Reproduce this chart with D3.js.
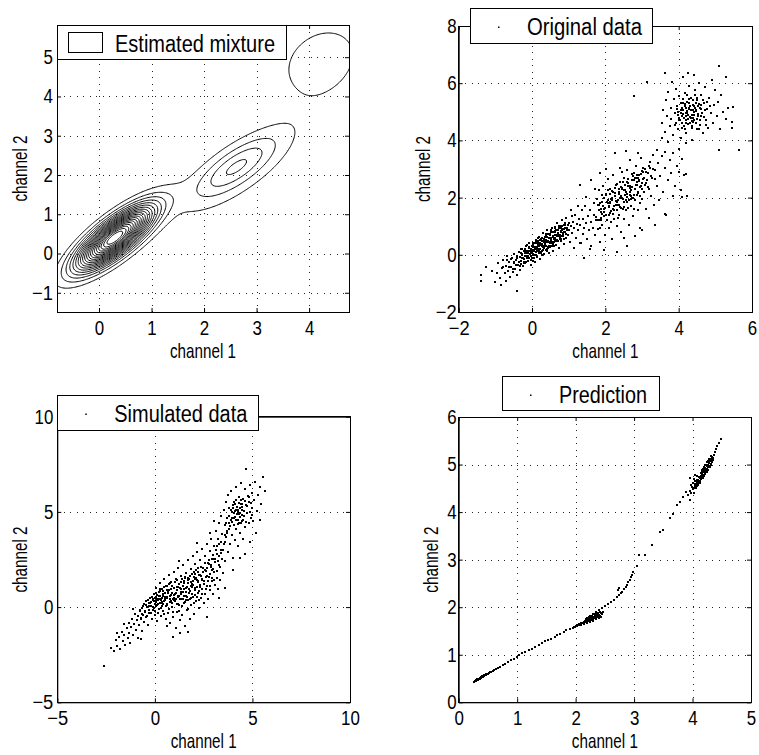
<!DOCTYPE html>
<html>
<head>
<meta charset="utf-8">
<script src="https://cdn.jsdelivr.net/npm/d3@7"></script>
<style>
body { margin: 0; background: #fff; }
text { font-family: "Liberation Sans Narrow", "Liberation Sans", Arial, sans-serif; fill: #000; }
.tick text { font-size: 20px; }
.axis-label { font-size: 21px; }
.legend-text { font-size: 23px; }
</style>
</head>
<body>
<script>
// tick values per panel
let p1XTicks = [0, 1, 2, 3, 4]
let p1YTicks = [-1, 0, 1, 2, 3, 4, 5]
let p2XTicks = [-2, 0, 2, 4, 6]
let p2YTicks = [-2, 0, 2, 4, 6, 8]
let p3XTicks = [-5, 0, 5, 10]
let p3YTicks = [-5, 0, 5, 10]
let p4XTicks = [0, 1, 2, 3, 4, 5]
let p4YTicks = [0, 1, 2, 3, 4, 5, 6]

// estimated mixture (peak heights in units of the contour step)
let mixPeak  = [21, 1.5, 2.75, 1.6]
let mixMeanX = [0.3, 2.6, 2.62, 4.22]
let mixMeanY = [0.4, 2.1, 2.22, 4.88]
let mixSdX   = [0.47, 0.9, 0.5, 0.62]
let mixSdY   = [0.52, 0.9, 0.5, 0.76]
let mixRho   = [0.79, 0.78, 0.75, 0.25]
let contourLevels = [1, 2, 3, 4, 5, 6, 7, 8, 9, 10, 11, 12, 13, 14, 15, 16, 17, 18, 19, 20]

// original data (thinned)
let originalData = [
[-1.40,-0.72],[-1.38,-0.90],[-1.25,-0.42],[-1.10,-0.55],[-1.02,-0.95],[-0.95,-0.62],[-0.92,-0.30],[-0.88,-0.80],[-0.85,-1.05],[-0.82,-0.45],
[-0.78,-0.18],[-0.75,-0.65],[-0.72,-0.92],[-0.70,-0.38],[-0.68,-0.05],[-0.65,-0.55],[-0.62,-0.25],[-0.60,-0.78],[-0.58,-0.42],[-0.55,-0.10],
[-0.52,-0.60],[-0.50,-0.30],[-0.48,0.02],[-0.46,-0.48],[-0.44,-0.18],[-0.42,-1.28],[-0.40,-0.70],[-0.38,-0.35],[-0.36,0.10],[-0.34,-0.08],
[-0.32,-0.52],[-0.30,-0.22],[-0.28,0.22],[-0.26,-0.02],[-0.24,-0.40],[-0.22,-0.15],[-0.20,0.05],[-0.18,-0.30],[-0.16,0.30],[-0.14,-0.05],
[-0.12,0.15],[-0.10,-0.22],[-0.08,0.40],[-0.06,0.02],[-0.04,-0.35],[-0.02,0.22],[0.00,-0.10],[0.00,0.08],[0.02,0.35],[0.04,-0.02],
[0.06,0.18],[0.08,-0.25],[0.10,0.52],[0.11,0.10],[0.13,0.28],[0.14,-0.08],[0.16,0.40],[0.18,0.05],[0.19,0.62],[0.21,0.22],
[0.22,-0.15],[0.24,0.35],[0.26,0.12],[0.27,0.48],[0.29,0.75],[0.30,0.28],[0.32,0.02],[0.33,0.55],[0.35,0.38],[0.37,0.18],
[0.38,0.68],[0.40,0.45],[0.42,0.88],[0.43,0.25],[0.45,0.58],[0.47,0.05],[0.48,0.40],[0.50,0.72],[0.52,0.52],[0.53,0.30],
[0.55,0.95],[0.57,0.62],[0.58,0.15],[0.60,0.45],[0.62,0.80],[0.64,0.58],[0.65,0.35],[0.67,1.10],[0.69,0.70],[0.70,0.48],
[0.72,0.88],[0.74,0.25],[0.75,0.62],[0.77,1.00],[0.79,0.78],[0.80,0.50],[0.82,1.22],[0.84,0.90],[0.85,0.68],[0.87,0.38],
[0.89,1.05],[0.90,0.80],[0.92,0.58],[0.94,1.30],[0.96,0.95],[0.98,0.70],[1.00,1.12],[1.02,0.85],[1.04,0.45],[1.06,1.00],
[1.08,1.35],[1.10,0.75],[1.12,1.15],[1.15,0.92],[1.18,1.40],[1.20,0.60],[1.22,1.08],[1.25,0.85],[1.28,1.25],[1.30,0.40],
[-0.35,-0.25],[-0.27,-0.12],[-0.21,0.12],[-0.15,-0.12],[-0.11,0.05],[-0.07,0.25],[-0.03,0.10],[0.01,0.30],[0.03,0.12],[0.05,-0.12],
[0.07,0.40],[0.09,0.20],[0.12,0.00],[0.15,0.22],[0.17,0.48],[0.20,0.32],[0.23,0.10],[0.25,0.55],[0.28,0.38],[0.31,0.18],
[0.34,0.45],[0.36,0.62],[0.39,0.32],[0.41,0.12],[0.44,0.50],[0.46,0.72],[0.49,0.28],[0.51,0.60],[0.54,0.45],[0.56,0.78],
[0.59,0.55],[0.61,0.30],[0.63,0.68],[0.66,0.88],[0.68,0.52],[0.71,0.72],[0.73,0.95],[0.76,0.55],[0.78,0.82],[0.81,0.65],
[0.83,1.02],[0.86,0.80],[0.88,0.55],[0.91,0.95],[-0.45,-0.35],[-0.40,-0.12],[-0.33,-0.40],[-0.29,0.05],[-0.23,-0.28],[-0.19,-0.05],
[-0.13,0.35],[-0.09,-0.10],[-0.05,0.15],[0.02,-0.20],[0.06,0.28],[0.12,0.45],[0.19,0.15],[0.22,0.42],[0.26,-0.02],[0.33,0.30],
[0.38,0.52],[0.45,0.32],[0.52,0.85],[0.58,0.38],[0.64,0.95],
[-0.31,-0.32],[-0.27,0.02],[-0.24,-0.11],[-0.20,0.20],[-0.17,-0.25],[-0.14,0.08],[-0.10,-0.06],[-0.07,0.27],[-0.04,-0.19],[-0.01,0.16],
[0.02,0.41],[0.04,0.03],[0.07,0.29],[0.09,0.00],[0.12,0.40],[0.14,0.21],[0.17,0.59],[0.19,0.13],[0.22,0.37],[0.24,0.07],
[0.27,0.57],[0.29,0.29],[0.32,0.52],[0.34,0.23],[0.37,0.72],[0.39,0.46],[0.42,0.62],[0.44,0.27],[0.47,0.60],[0.49,0.44],
[0.52,0.81],[0.54,0.30],[0.57,0.63],[0.59,0.80],[0.62,0.52],[0.64,0.97],[0.67,0.66],[0.69,0.51],[0.72,0.86],[0.74,0.65],
[0.77,1.00],[0.79,0.54],[0.82,0.87],[0.85,0.77],[0.88,1.04],[0.93,0.74],[0.97,1.05],[1.01,0.85],[-0.40,-0.05],[-0.43,-0.37],
[-0.48,-0.24],[-0.53,-0.51],[-0.57,-0.16],[-0.62,-0.43],[-0.67,-0.18],[-0.73,-0.63],[-0.80,-0.44],
[-0.29,0.20],[-0.22,-0.24],[-0.16,0.13],[-0.12,-0.04],[-0.06,0.14],[-0.02,-0.05],[0.03,0.29],[0.06,0.14],[0.10,0.51],[0.13,0.14],
[0.16,0.34],[0.20,0.07],[0.23,0.52],[0.26,0.32],[0.30,0.50],[0.33,0.29],[0.36,0.49],[0.40,0.19],[0.43,0.71],[0.46,0.46],
[0.50,0.69],[0.53,0.40],[0.56,0.67],[0.60,0.60],[0.63,0.84],[0.66,0.47],[0.70,0.76],[0.73,0.99],[0.76,0.69],[0.80,0.93],
[0.84,0.64],[0.87,0.89],[0.91,1.12],[0.95,0.87],
[1.32,1.05],[1.35,1.55],[1.38,0.72],[1.40,1.25],[1.43,0.95],[1.45,1.70],[1.48,1.10],[1.50,0.55],[1.52,1.35],[1.55,0.85],
[1.58,1.55],[1.60,1.15],[1.62,0.30],[1.65,0.95],[1.68,1.80],[1.70,1.40],[1.72,0.68],[1.75,1.20],[1.78,1.95],[1.80,0.90],
[1.83,1.55],[1.85,0.45],[1.88,1.30],[1.90,2.10],[1.33,0.40],[1.46,2.02],[1.57,0.20],[1.26,1.70],[1.15,0.25],[1.06,1.55],
[1.73,2.30],[1.41,-0.10],
[1.80,1.20],[1.82,1.75],[1.84,2.25],[1.86,0.95],[1.88,1.50],[1.90,1.05],[1.92,1.85],[1.94,2.40],[1.96,1.35],[1.98,0.70],
[2.00,1.65],[2.02,2.10],[2.04,1.20],[2.06,2.65],[2.08,1.80],[2.10,0.95],[2.12,1.45],[2.14,2.30],[2.16,1.95],[2.18,0.55],
[2.20,1.60],[2.22,2.80],[2.24,1.25],[2.26,2.05],[2.28,1.75],[2.30,2.45],[2.32,1.00],[2.34,1.90],[2.36,1.40],[2.38,2.20],
[2.40,3.05],[2.42,1.65],[2.44,0.80],[2.46,2.35],[2.48,1.95],[2.50,1.25],[2.52,2.70],[2.54,2.10],[2.56,1.55],[2.58,2.95],
[2.60,1.85],[2.62,2.40],[2.64,1.05],[2.66,2.20],[2.68,3.30],[2.70,1.70],[2.72,2.60],[2.74,2.00],[2.76,1.35],[2.78,2.85],
[2.80,2.30],[2.82,1.90],[2.84,3.10],[2.86,2.55],[2.88,1.55],[2.90,2.15],[2.92,2.80],[2.94,0.95],[2.96,2.40],[2.98,3.40],
[3.00,1.95],[3.02,2.65],[3.05,2.20],[3.08,3.00],[3.10,1.60],[3.12,2.50],[3.15,2.85],[3.18,1.30],[3.20,2.30],[3.22,3.25],
[3.25,2.05],[3.28,2.70],[3.30,3.50],[3.33,1.75],[3.36,2.95],[3.40,2.40],[3.43,3.20],[3.46,1.90],[3.50,2.75],[3.54,3.45],
[3.58,2.20],[3.62,3.05],[3.66,1.40],[3.70,2.60],[3.75,3.30],[3.80,2.85],[3.85,3.55],[3.90,2.40],[3.95,3.10],[4.00,3.70],
[4.05,2.25],[4.10,3.35],[4.15,2.80],[4.20,3.90],[4.22,2.05],
[1.95,1.60],[2.03,1.40],[2.07,2.25],[2.11,1.70],[2.15,1.15],[2.19,2.00],[2.23,1.55],[2.27,2.35],[2.31,1.85],[2.35,1.30],
[2.39,2.55],[2.43,2.05],[2.47,1.60],[2.51,2.25],[2.55,1.90],[2.59,2.55],[2.63,1.65],[2.67,2.35],[2.71,2.05],[2.75,2.75],
[2.79,1.60],[2.83,2.45],[2.87,2.10],[2.91,2.60],[2.95,1.80],[2.99,2.30],[3.03,2.90],[3.07,2.45],[2.21,2.20],[2.37,1.75],
[2.53,2.45],[2.69,1.95],[2.85,2.70],[2.45,2.90],[2.13,1.85],
[1.85,1.82],[1.89,1.21],[1.93,1.70],[1.97,1.49],[2.01,2.12],[2.04,1.20],[2.07,1.93],[2.10,1.66],[2.13,2.14],[2.16,1.52],
[2.19,1.90],[2.22,1.42],[2.25,2.15],[2.28,1.88],[2.31,2.46],[2.34,1.74],[2.37,2.14],[2.40,1.67],[2.43,2.37],[2.46,1.98],
[2.49,2.55],[2.52,1.66],[2.55,2.19],[2.58,2.02],[2.61,2.52],[2.64,1.92],[2.67,2.40],[2.70,2.25],[2.73,2.81],[2.76,1.97],
[2.79,2.60],[2.82,2.29],[2.85,2.79],[2.88,2.20],[2.91,2.58],[2.94,2.06],[2.97,2.81],[3.00,2.52],[3.04,3.05],[3.08,2.44],
[3.12,2.88],[3.16,2.37],[3.20,3.10],[3.25,2.75],[3.30,3.00],[3.35,2.65],
[1.75,1.33],[1.80,1.73],[1.84,1.21],[1.88,1.60],[1.92,1.44],[1.96,1.98],[2.00,1.62],[2.05,1.86],[2.09,1.40],[2.14,1.82],
[2.18,2.22],[2.23,1.70],[2.27,2.04],[2.32,1.57],[2.36,2.31],[2.41,2.00],[2.45,2.29],[2.50,1.86],[2.54,2.26],[2.59,2.11],
[2.63,2.64],[2.68,2.09],[2.72,2.37],[2.77,2.10],[2.81,2.68],[2.86,2.43],[2.90,2.67],[2.95,2.37],[3.00,2.92],[3.06,2.67],
[3.14,2.60],[3.22,3.02],
[1.31,2.43],[1.62,2.62],[1.85,2.85],[2.02,3.00],[2.25,3.55],[2.55,3.62],[2.90,3.55],[3.40,3.65],[3.62,3.58],[2.31,0.10],
[1.95,0.16],[2.60,0.30],[2.50,0.60],[2.80,0.65],[3.00,0.85],[3.35,1.05],[3.63,1.44],[3.85,2.05],[4.00,2.90],[4.20,2.84],
[4.08,2.03],
[3.55,4.60],[3.58,5.05],[3.62,4.30],[3.65,5.40],[3.68,4.85],[3.70,3.95],[3.72,5.70],[3.75,4.50],[3.78,5.15],[3.80,4.75],
[3.82,6.05],[3.85,4.20],[3.87,5.45],[3.89,4.95],[3.91,4.55],[3.93,5.80],[3.95,5.20],[3.97,4.40],[3.99,5.00],[4.01,5.55],
[4.03,4.70],[4.05,4.10],[4.07,5.30],[4.09,4.85],[4.11,6.20],[4.13,5.05],[4.15,4.50],[4.17,5.65],[4.19,4.95],[4.21,4.25],
[4.23,5.35],[4.25,4.75],[4.27,5.90],[4.29,5.10],[4.31,4.60],[4.33,5.50],[4.35,4.90],[4.37,4.00],[4.39,5.25],[4.41,6.30],
[4.43,4.70],[4.45,5.75],[4.47,5.05],[4.49,4.40],[4.51,5.40],[4.53,4.85],[4.55,6.00],[4.57,5.15],[4.59,4.55],[4.61,5.60],
[4.63,4.95],[4.66,4.25],[4.69,5.30],[4.72,5.85],[4.75,4.70],[4.78,5.10],[4.81,4.45],[4.84,5.50],[4.87,4.95],[4.90,6.10],
[4.93,4.60],[4.96,5.25],[5.00,5.75],[5.04,4.85],[5.08,5.35],[5.12,4.40],[5.16,5.60],[5.22,5.00],[5.28,4.75],[5.35,5.15],
[5.45,4.65],[4.05,4.95],[4.10,5.15],[4.14,4.78],[4.18,5.28],[4.22,5.02],[4.26,4.88],[4.30,5.20],[4.34,4.80],[4.38,5.05],
[4.42,4.90],[4.46,5.30],[4.50,4.75],[4.20,4.62],[4.28,5.45],[4.36,4.52],[4.44,5.12],[4.00,4.80],[4.12,5.45],[4.24,5.60],
[4.40,4.65],[4.52,5.20],[4.60,4.85],[3.96,5.10],[4.16,4.40],
[4.02,4.72],[4.06,5.08],[4.09,4.62],[4.13,4.92],[4.16,5.22],[4.19,4.70],[4.21,5.12],[4.24,4.95],[4.26,4.58],[4.29,5.32],
[4.31,4.82],[4.33,5.08],[4.36,4.68],[4.38,5.40],[4.41,4.98],[4.43,5.22],[4.46,4.62],[4.48,5.02],[4.50,5.48],[4.53,4.92],
[4.56,5.28],[4.58,4.70],[4.62,5.10],[4.65,5.42],[4.68,4.82],[4.71,5.05],[4.74,4.55],[4.78,5.35],[3.98,4.90],[3.94,4.62],
[4.12,5.32],[4.27,5.15],[4.35,4.45],[4.45,5.58],[4.55,4.40],[4.20,4.85],[4.39,4.78],[4.10,4.45],[4.60,5.25],[4.85,5.20],
[2.79,5.56],[3.13,6.05],[3.63,6.34],[4.25,6.35],[5.11,6.61],[5.65,3.66],[5.10,3.65],[5.49,5.18],[5.45,4.42],[3.55,4.10],[5.30,6.20]
]

// simulated data (thinned)
let simulatedData = [
[-2.62,-3.10],[-2.25,-2.15],[-2.10,-2.30],[-2.00,-1.75],[-1.92,-2.05],[-1.85,-1.55],[-1.78,-2.20],[-1.70,-1.30],[-1.65,-1.80],[-1.58,-1.45],
[-1.52,-2.00],[-1.45,-1.10],[-1.40,-1.60],[-1.35,-0.85],[-1.30,-1.35],[-1.25,-1.90],[-1.20,-1.05],[-1.15,-0.60],[-1.10,-1.45],[-1.05,-0.90],
[-1.00,-0.35],[-0.96,-1.20],[-0.92,-0.70],[-0.88,-1.60],[-0.84,-0.45],[-0.80,-0.95],[-0.76,-0.15],[-0.72,-0.65],[-0.68,-1.25],[-0.64,-0.35],
[-0.60,0.05],[-0.56,-0.80],[-0.52,-0.20],[-0.48,0.30],[-0.44,-0.50],[-0.40,0.00],[-0.36,-0.95],[-0.32,0.20],[-0.28,-0.30],[-0.24,0.50],
[-0.20,0.05],[-0.16,-0.60],[-0.12,0.35],[-0.08,-0.15],[-0.04,0.70],[0.00,0.15],[-1.60,-0.90],[-1.95,-1.35],[-0.70,-1.70],[-1.10,-0.10],
[0.02,-0.40],[0.05,0.55],[0.08,1.00],[0.10,0.10],[0.13,-0.75],[0.16,0.35],[0.19,0.80],[0.22,-0.10],[0.25,1.25],[0.28,0.45],
[0.31,-0.45],[0.34,0.20],[0.37,0.95],[0.40,0.60],[0.43,-0.20],[0.46,1.45],[0.49,0.30],[0.52,0.75],[0.55,-0.65],[0.58,0.05],
[0.61,1.10],[0.64,0.50],[0.67,-0.30],[0.70,0.90],[0.73,1.70],[0.76,0.25],[0.79,-0.85],[0.82,0.65],[0.85,1.30],[0.88,0.00],
[0.91,0.45],[0.94,-0.50],[0.97,1.00],[1.00,1.85],[1.03,0.30],[1.06,-1.10],[1.09,0.75],[1.12,-0.25],[1.15,1.40],[1.18,0.55],
[1.21,2.05],[1.24,0.10],[1.27,-0.70],[1.30,1.00],[1.33,0.40],[1.36,1.65],[1.39,-0.40],[1.42,0.80],[1.45,2.20],[1.48,0.20],
[1.51,1.25],[1.54,-1.00],[1.57,0.60],[1.60,1.80],[1.63,-0.15],[1.66,1.05],[1.69,2.45],[1.72,0.35],[1.75,1.45],[1.78,-0.65],
[1.81,0.85],[1.84,2.00],[1.87,0.10],[1.90,1.20],[1.93,2.70],[1.96,0.55],[1.99,1.60],[2.02,-0.35],[2.05,1.00],[2.08,2.25],
[2.11,0.30],[2.14,1.40],[2.17,2.90],[2.20,0.75],[2.23,1.85],[2.26,-0.05],[2.29,1.15],[2.32,2.50],[2.35,0.50],[2.38,1.65],
[2.41,3.05],[2.44,0.95],[2.47,2.05],[2.50,0.20],[2.53,1.35],[2.56,2.70],[2.59,0.70],[2.62,1.90],[2.65,3.30],[2.68,1.10],
[2.71,2.30],[2.74,0.45],[2.77,1.60],[2.80,2.95],[2.83,0.90],[2.86,2.10],[2.89,3.60],[2.92,1.35],[2.95,2.55],[2.98,0.70],
[3.01,1.85],[3.04,3.20],[3.07,1.15],[3.10,2.35],[3.13,4.00],[3.16,1.55],[3.19,2.80],[3.22,0.95],
[0.05,0.25],[0.12,0.65],[0.18,0.15],[0.24,0.85],[0.30,0.35],[0.36,0.05],[0.42,0.70],[0.48,1.05],[0.54,0.40],[0.60,0.15],
[0.66,0.75],[0.72,1.20],[0.78,0.45],[0.84,0.95],[0.90,0.20],[0.96,0.65],[1.02,1.30],[1.08,0.40],[1.14,0.90],[1.20,0.15],
[1.26,1.20],[1.32,0.70],[1.38,1.45],[1.44,0.45],[1.50,0.95],[1.56,1.55],[1.62,0.35],[1.68,1.25],[1.74,0.75],[1.80,1.65],
[1.86,0.50],[1.92,1.05],[1.98,1.85],[2.04,0.65],[2.10,1.55],[2.16,1.05],[2.22,2.05],[2.28,0.85],[0.15,0.45],[0.27,0.60],
[0.39,0.25],[0.51,0.55],[0.63,0.90],[0.75,0.60],[0.87,1.10],[0.99,0.50],[1.11,1.05],[1.23,0.60],[1.35,0.95],[1.47,1.35],
[1.59,0.80],[1.71,1.55],[1.83,1.10],[1.95,1.35],[2.07,1.75],[2.19,1.35],[2.31,1.70],[2.43,1.40],[2.55,1.95],[2.67,1.65],
[2.79,2.25],[2.91,1.95],[3.03,2.55],[-0.10,0.40],[-0.20,0.25],[-0.30,0.05],[0.00,0.50],[0.08,0.30],[-0.05,-0.05],
[-0.85,-0.45],[-0.78,-0.20],[-0.72,-0.55],[-0.66,-0.05],[-0.60,-0.40],[-0.55,0.15],[-0.50,-0.25],[-0.45,0.10],[-0.40,-0.45],[-0.35,0.35],
[-0.30,-0.15],[-0.25,0.20],[-0.20,-0.30],[-0.15,0.55],[-0.10,0.00],[-0.05,0.30],[0.00,-0.20],[0.04,0.75],[0.08,0.05],[0.12,0.40],
[0.16,-0.30],[0.20,0.60],[0.24,0.20],[0.28,0.95],[0.32,-0.05],[0.36,0.50],[0.40,0.15],[0.44,0.85],[0.48,-0.35],[0.52,0.35],
[0.56,1.10],[0.60,0.55],[0.64,0.10],[0.68,0.80],[0.72,-0.10],[0.76,0.45],[0.80,1.25],[0.84,0.30],[0.88,0.75],[0.92,-0.25],
[0.96,1.00],[1.00,0.35],[1.04,0.70],[1.08,1.45],[1.12,0.15],[1.16,0.60],[1.20,1.05],[1.24,-0.20],[1.28,0.45],[1.32,1.30],
[1.36,0.80],[1.40,0.05],[1.44,1.10],[1.48,0.60],[1.52,1.60],[1.56,0.25],[1.60,1.00],[1.64,0.55],[1.68,1.40],[1.72,-0.10],
[1.76,0.95],[1.80,0.40],[1.84,1.30],[1.88,1.75],[1.92,0.70],[1.96,1.15],[2.00,0.20],[2.04,1.50],[2.08,0.90],[2.12,1.95],
[2.16,0.55],[2.20,1.30],[2.24,1.70],[2.28,0.35],[2.32,1.05],[2.36,2.10],[2.40,1.45],[2.44,0.70],[2.48,1.85],[2.52,1.20],
[2.56,2.30],[2.60,0.95],[2.64,1.60],[2.68,2.05],[2.72,1.35],[2.76,2.50],[2.80,1.75],[2.84,1.10],[2.88,2.20],[2.92,1.55],
[2.96,2.75],[3.00,2.00],[3.05,1.40],[3.10,2.55],[3.15,3.00],[3.20,1.90],[3.25,2.40],[3.30,3.30],[3.35,2.10],[3.40,2.85],
[3.25,3.60],[3.28,2.20],[3.31,4.40],[3.34,1.40],[3.37,3.00],[3.40,4.80],[3.43,2.55],[3.46,3.85],[3.49,1.80],[3.52,5.10],
[3.55,3.30],[3.58,4.30],[3.61,2.40],[3.64,5.50],[3.67,3.70],[3.70,4.70],[3.73,2.90],[3.76,5.90],[3.79,4.10],[3.82,5.20],
[3.85,3.30],[3.88,4.55],[3.91,6.10],[3.94,3.80],[3.97,5.00],[4.00,2.60],[4.03,4.30],[4.06,5.50],[4.09,3.50],[4.12,4.75],
[4.15,6.30],[4.18,4.10],[4.21,5.25],[4.24,3.20],[4.27,4.60],[4.30,5.80],[4.33,4.90],[4.36,3.90],[4.39,5.40],[4.42,6.50],
[4.45,4.50],[4.48,5.10],[4.51,3.60],[4.54,5.70],[4.57,4.80],[4.60,6.20],[4.63,4.20],[4.66,5.35],[4.69,7.24],[4.72,4.95],
[4.76,5.85],[4.80,4.40],[4.84,5.50],[4.88,6.40],[4.92,4.70],[4.96,5.20],[5.00,6.00],[5.05,4.50],[5.10,5.60],[5.15,6.55],
[5.22,5.05],[5.30,5.90],[5.38,6.30],[5.45,5.40],[5.56,6.85],[5.65,6.10],[5.40,4.60],[5.20,3.90],[4.90,3.40],[4.60,2.80],
[3.80,4.40],[3.95,4.70],[4.05,4.95],[4.15,5.10],[4.25,5.00],[4.35,5.20],[4.45,4.85],[4.20,4.55],[4.10,5.40],[4.40,5.60],
[4.30,4.40],[4.00,5.20],[3.70,3.90],[3.60,3.40],[3.50,3.00],[3.40,3.40],[3.30,2.70],[3.20,3.20],
[3.60,3.80],[3.65,4.40],[3.72,4.00],[3.78,4.80],[3.84,4.25],[3.90,5.10],[3.96,4.45],[4.02,5.35],[4.08,4.70],[4.14,5.60],
[4.20,4.90],[4.26,4.35],[4.32,5.45],[4.38,4.75],[4.44,5.25],[4.50,4.60],[4.56,5.05],[4.62,5.55],[4.68,4.45],[4.74,5.30],
[4.80,5.80],[4.86,5.00],[4.92,5.45],[4.98,4.85],[4.16,4.60],[4.28,5.10],[4.34,4.95],[4.46,5.40],[4.10,5.05],[4.40,4.40],
[2.15,3.35],[1.25,2.40],[2.80,3.90],[3.05,4.50],[0.95,-1.55],[1.70,-1.30],[2.66,-0.50],[3.30,0.50],[3.60,1.00],[4.02,1.95],
[4.35,2.60],[0.60,-1.00],[1.30,-1.35]
]

// prediction
let predictionData = [
[0.27,0.43],[0.28,0.44],[0.29,0.445],[0.30,0.455],[0.31,0.46],[0.32,0.47],[0.33,0.475],[0.34,0.485],[0.35,0.49],[0.36,0.50],
[0.37,0.505],[0.38,0.515],[0.39,0.52],[0.40,0.53],[0.41,0.535],[0.42,0.545],[0.43,0.55],[0.44,0.56],[0.45,0.565],[0.46,0.575],
[0.47,0.58],[0.48,0.59],[0.50,0.60],[0.52,0.615],[0.54,0.63],[0.56,0.645],[0.58,0.66],[0.60,0.67],
[0.28,0.455],[0.30,0.47],[0.32,0.485],[0.34,0.50],[0.36,0.515],[0.38,0.53],[0.40,0.545],[0.42,0.56],[0.44,0.575],[0.46,0.59],
[0.63,0.69],[0.67,0.72],[0.71,0.75],[0.75,0.78],[0.79,0.80],[0.84,0.84],[0.89,0.88],[0.94,0.92],[0.99,0.96],[1.04,0.99],
[1.09,1.03],[1.14,1.06],[1.20,1.10],[1.25,1.13],[1.31,1.17],[1.37,1.21],[1.42,1.24],[1.48,1.28],[1.53,1.31],[1.58,1.34],
[1.64,1.38],[1.69,1.41],[1.74,1.44],[1.80,1.48],[1.84,1.51],[1.90,1.54],
[1.95,1.57],[1.97,1.58],[1.99,1.59],[2.00,1.60],[2.02,1.61],[2.03,1.63],[2.05,1.62],[2.06,1.64],[2.08,1.63],[2.09,1.66],
[2.10,1.65],[2.12,1.67],[2.13,1.66],[2.14,1.69],[2.15,1.67],[2.16,1.70],[2.18,1.69],[2.19,1.72],[2.20,1.70],[2.21,1.73],
[2.22,1.71],[2.23,1.75],[2.24,1.72],[2.25,1.76],[2.26,1.73],[2.27,1.77],[2.28,1.74],[2.29,1.78],[2.30,1.76],[2.31,1.80],
[2.32,1.77],[2.33,1.81],[2.34,1.78],[2.35,1.83],[2.36,1.79],[2.37,1.82],[2.38,1.85],[2.39,1.80],[2.40,1.84],[2.42,1.82],
[2.43,1.87],[2.45,1.85],[2.47,1.90],
[2.10,1.62],[2.15,1.64],[2.20,1.67],[2.25,1.69],[2.30,1.72],[2.35,1.75],[2.40,1.78],[2.44,1.80],[2.18,1.75],[2.23,1.79],
[2.28,1.82],[2.33,1.86],[2.38,1.88],[2.42,1.90],[2.36,1.86],
[2.20,1.78],[2.25,1.82],[2.30,1.86],[2.35,1.90],[2.40,1.94],[2.45,1.98],[2.50,2.02],[2.55,2.07],[2.60,2.11],[2.65,2.16],
[2.70,2.21],[2.74,2.25],[2.78,2.30],[2.80,2.33],[2.83,2.38],[2.86,2.43],[2.88,2.47],[2.90,2.52],[2.93,2.58],[2.95,2.63],
[2.97,2.68],[2.99,2.73],[2.72,2.37],[2.74,2.40],
[3.05,2.86],[3.08,3.10],[3.18,3.10],[3.30,3.31],[3.45,3.59],[3.50,3.62],[3.61,3.87],[3.67,3.97],[3.73,4.15],[3.79,4.22],
[3.84,4.32],[3.92,4.36],[3.95,4.25],
[4.02,4.50],[4.04,4.55],[4.05,4.52],[4.06,4.60],[4.07,4.56],[4.08,4.64],[4.09,4.60],[4.10,4.68],[4.11,4.63],[4.12,4.72],
[4.13,4.66],[4.14,4.76],[4.15,4.70],[4.16,4.80],[4.17,4.74],[4.18,4.84],[4.19,4.78],[4.20,4.88],[4.21,4.82],[4.22,4.92],
[4.23,4.86],[4.24,4.96],[4.25,4.90],[4.26,5.00],[4.27,4.94],[4.28,5.04],[4.29,4.98],[4.30,5.08],[4.31,5.02],[4.32,5.12],
[4.33,5.06],[4.34,5.16],[4.35,5.10],[4.36,5.20],
[4.16,4.86],[4.18,4.90],[4.20,4.95],[4.22,5.00],[4.24,5.05],[4.26,5.08],[4.28,5.12],[4.18,4.72],[4.20,4.76],[4.22,4.80],
[4.24,4.84],[4.26,4.88],[4.30,4.95],[4.32,5.00],[4.12,4.62],[4.10,4.58],[4.08,4.54],[4.06,4.50],
[4.08,4.58],[4.11,4.65],[4.14,4.72],[4.17,4.79],[4.20,4.84],[4.23,4.91],[4.26,4.96],[4.29,5.03],[4.32,5.08],[4.35,5.14],
[4.05,4.60],[4.08,4.67],[4.11,4.74],[4.14,4.82],[4.17,4.88],[4.20,4.93],[4.23,4.99],[4.26,5.05],[4.29,5.10],[4.32,5.17],
[3.96,4.45],[3.98,4.58],[4.00,4.62],[4.01,4.48],[4.03,4.70],[4.05,4.66],[3.99,4.52],[4.07,4.75],[3.97,4.40],[4.02,4.40],
[4.04,4.78],[3.89,4.43],[3.95,4.71],
[4.38,5.26],[4.40,5.32],[4.42,5.38],[4.45,5.45],[4.49,5.54]
]

let W = 759, H = 755
let svg = d3.select('body').append('svg')
  .attr('width', W)
  .attr('height', H)

let fmt = d => d < 0 ? '\u2212' + (-d) : '' + d

function makePanel(id, p) {
  let x = d3.scaleLinear().domain(p.xDomain).range([p.left, p.right])
  let y = d3.scaleLinear().domain(p.yDomain).range([p.bottom, p.top])
  let g = svg.append('g')

  // dotted grid
  let gx = p.xTicks.filter(t => x(t) > p.left + 1 && x(t) < p.right - 1)
  let gy = p.yTicks.filter(t => y(t) < p.bottom - 1 && y(t) > p.top + 1)
  g.selectAll(null).data(gx).enter().append('line')
    .attr('x1', d => Math.round(x(d)) + 0.5).attr('x2', d => Math.round(x(d)) + 0.5)
    .attr('y1', p.top).attr('y2', p.bottom)
    .attr('stroke', '#222').attr('stroke-dasharray', '1,5.5')
    .attr('shape-rendering', 'crispEdges')
  g.selectAll(null).data(gy).enter().append('line')
    .attr('y1', d => Math.round(y(d)) + 0.5).attr('y2', d => Math.round(y(d)) + 0.5)
    .attr('x1', p.left).attr('x2', p.right)
    .attr('stroke', '#222').attr('stroke-dasharray', '1,5.5')
    .attr('shape-rendering', 'crispEdges')

  svg.append('clipPath').attr('id', 'clip' + id)
    .append('rect')
    .attr('x', p.left).attr('y', p.top)
    .attr('width', p.right - p.left).attr('height', p.bottom - p.top)
  let plot = g.append('g').attr('clip-path', 'url(#clip' + id + ')')

  return {g, plot, x, y, p}
}

// narrow tick digits like the original figure
function narrowTicks(sel) {
  sel.selectAll('.tick text').each(function() {
    let t = d3.select(this).text()
    if (!t) return
    let w = 0
    for (let ch of t) w += ch === '\u2212' ? 11.5 : 9.4
    d3.select(this).attr('textLength', w).attr('lengthAdjust', 'spacingAndGlyphs')
  })
}

function finishPanel(P) {
  let p = P.p, g = P.g
  let axes = [
    [d3.axisBottom(P.x).tickFormat(fmt).tickPadding(8.5), 0, p.bottom, p.xTicks],
    [d3.axisTop(P.x).tickFormat(''), 0, p.top, p.xTicks],
    [d3.axisLeft(P.y).tickFormat(fmt).tickPadding(p.yGap), p.left, 0, p.yTicks],
    [d3.axisRight(P.y).tickFormat(''), p.right, 0, p.yTicks]
  ]
  axes.forEach(a => {
    let ag = g.append('g')
      .attr('transform', 'translate(' + a[1] + ',' + a[2] + ')')
      .call(a[0].tickValues(a[3]).tickSizeInner(-4).tickSizeOuter(0))
    ag.attr('font-family', null).attr('font-size', null)
    ag.selectAll('line').attr('stroke', '#000')
    ag.select('.domain').attr('stroke', '#000')
    narrowTicks(ag)
  })

  g.append('rect')
    .attr('x', p.left).attr('y', p.top)
    .attr('width', p.right - p.left).attr('height', p.bottom - p.top)
    .attr('fill', 'none').attr('stroke', '#000')
    .attr('shape-rendering', 'crispEdges')

  g.append('text')
    .attr('class', 'axis-label')
    .attr('x', (p.left + p.right) / 2).attr('y', p.bottom + 46)
    .attr('text-anchor', 'middle')
    .attr('textLength', 66).attr('lengthAdjust', 'spacingAndGlyphs')
    .text('channel 1')
  g.append('text')
    .attr('class', 'axis-label')
    .attr('transform', 'translate(' + p.yLabelX + ',' + (p.top + p.bottom) / 2 + ') rotate(-90)')
    .attr('text-anchor', 'middle')
    .attr('textLength', 66).attr('lengthAdjust', 'spacingAndGlyphs')
    .text('channel 2')
}

function legend(box, label, textW, marker) {
  let lg = svg.append('g')
  lg.append('rect')
    .attr('x', box[0]).attr('y', box[1]).attr('width', box[2]).attr('height', box[3])
    .attr('fill', '#fff').attr('stroke', '#000')
    .attr('shape-rendering', 'crispEdges')
  if (marker === 'patch') {
    lg.append('rect')
      .attr('x', box[0] + 11.5).attr('y', box[1] + 7.5).attr('width', 34).attr('height', 20)
      .attr('fill', '#fff').attr('stroke', '#000')
      .attr('shape-rendering', 'crispEdges')
  } else {
    lg.append('rect')
      .attr('x', box[0] + 28).attr('y', box[1] + 18.5).attr('width', 1.5).attr('height', 1.5)
      .attr('fill', '#000')
  }
  lg.append('text')
    .attr('class', 'legend-text')
    .attr('x', box[0] + (marker === 'patch' ? 58 : 57)).attr('y', box[1] + 27)
    .attr('textLength', textW).attr('lengthAdjust', 'spacingAndGlyphs')
    .text(label)
}

function scatter(P, data) {
  P.plot.selectAll(null).data(data).enter().append('rect')
    .attr('x', d => P.x(d[0]) - 1).attr('y', d => P.y(d[1]) - 1)
    .attr('width', 2).attr('height', 2)
    .attr('fill', '#000')
    .attr('shape-rendering', 'crispEdges')
}

// panel 1: estimated mixture contours
let P1 = makePanel(1, {left: 57, right: 349, top: 25, bottom: 312,
  xDomain: [-0.8, 4.76], yDomain: [-1.49, 5.82], xTicks: p1XTicks, yTicks: p1YTicks, yGap: 4, yLabelX: 27})

function mixtureAt(xv, yv) {
  let s = 0
  for (let k = 0; k < mixPeak.length; k++) {
    let dx = (xv - mixMeanX[k]) / mixSdX[k]
    let dy = (yv - mixMeanY[k]) / mixSdY[k]
    let r = mixRho[k]
    s += mixPeak[k] * Math.exp(-(dx * dx - 2 * r * dx * dy + dy * dy) / (2 * (1 - r * r)))
  }
  return s
}

let nx = 320, ny = 320
let gx0 = -1.6, gx1 = 5.6, gy0 = -2.3, gy1 = 6.6
let cxs = d3.scaleLinear().domain([0, nx]).range([gx0, gx1])
let cys = d3.scaleLinear().domain([0, ny]).range([gy1, gy0])
let grid = new Array(nx * ny)
for (let j = 0; j < ny; j++) {
  for (let i = 0; i < nx; i++) {
    grid[j * nx + i] = mixtureAt(cxs(i + 0.5), cys(j + 0.5))
  }
}
let contours = d3.contours().size([nx, ny]).thresholds(contourLevels)(grid)
let proj = d3.geoTransform({
  point: function(px, py) { this.stream.point(P1.x(cxs(px)), P1.y(cys(py))) }
})
P1.plot.selectAll('path').data(contours).enter().append('path')
  .attr('d', d3.geoPath(proj))
  .attr('fill', 'none')
  .attr('stroke', '#000')
  .attr('stroke-width', 1)
finishPanel(P1)

// panel 2: original data
let P2 = makePanel(2, {left: 458.7, right: 752, top: 26, bottom: 312,
  xDomain: [-2, 6], yDomain: [-2, 8], xTicks: p2XTicks, yTicks: p2YTicks, yGap: 2, yLabelX: 430})
scatter(P2, originalData)
finishPanel(P2)

// panel 3: simulated data
let P3 = makePanel(3, {left: 57.3, right: 350, top: 416.7, bottom: 702.3,
  xDomain: [-5, 10], yDomain: [-5, 10], xTicks: p3XTicks, yTicks: p3YTicks, yGap: 4, yLabelX: 27})
scatter(P3, simulatedData)
finishPanel(P3)

// panel 4: prediction
let P4 = makePanel(4, {left: 458.7, right: 751, top: 417, bottom: 702.3,
  xDomain: [0, 5], yDomain: [0, 6], xTicks: p4XTicks, yTicks: p4YTicks, yGap: 2, yLabelX: 438})
scatter(P4, predictionData)
finishPanel(P4)

legend([57, 25, 229, 34], 'Estimated mixture', 160, 'patch')
legend([470, 8, 182, 35], 'Original data', 115, 'dot')
legend([57.3, 395, 201.4, 35], 'Simulated data', 133, 'dot')
legend([502, 376, 157, 34.7], 'Prediction', 88, 'dot')
</script>
</body>
</html>
